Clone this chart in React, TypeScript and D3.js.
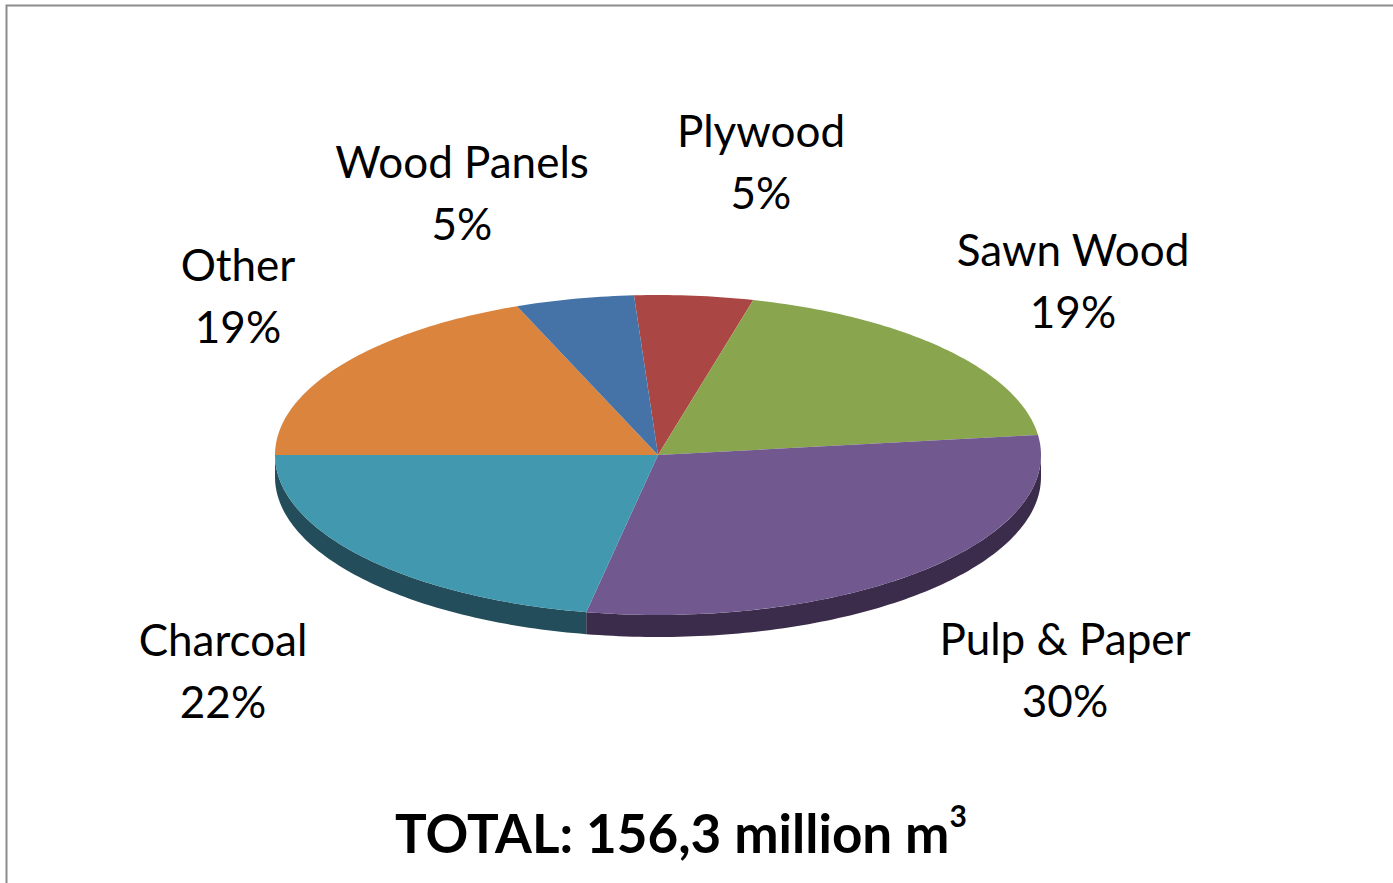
import React from "react";
import * as d3 from "d3";

const categories = ["Plywood", "Sawn Wood", "Pulp & Paper", "Charcoal", "Other", "Wood Panels"];
const values = [5, 19, 30, 22, 19, 5];
const percentLabels = ["5%", "19%", "30%", "22%", "19%", "5%"];
const topColors = ["#aa4643", "#89a54e", "#71588f", "#4198af", "#db843d", "#4572a7"];
const sideColors = ["#5e2524", "#4b5c2a", "#3b2c4b", "#234d5a", "#7a4720", "#243d5c"];
const titleText = "TOTAL: 156,3 million m";
const titleSup = "3";

const W = 1393;
const H = 883;
const cx = 658;
const cy = 455;
const rx = 383;
const ry = 160;
const depth = 22;
const FONT = "Lato, 'Open Sans', sans-serif";

// label placement (center x, first-line baseline y)
const labelPos: Record<string, [number, number]> = {
  "Plywood": [761, 147],
  "Sawn Wood": [1073, 266],
  "Pulp & Paper": [1065, 655],
  "Charcoal": [223, 656],
  "Other": [238, 281],
  "Wood Panels": [462, 178],
};

function pt(theta: number, dy = 0): [number, number] {
  return [cx + rx * Math.sin(theta), cy - ry * Math.cos(theta) + dy];
}

function topPath(a0: number, a1: number): string {
  const n = Math.max(2, Math.ceil(((a1 - a0) * 180) / Math.PI));
  const pts: [number, number][] = [[cx, cy]];
  for (let i = 0; i <= n; i++) pts.push(pt(a0 + ((a1 - a0) * i) / n));
  return "M" + pts.map((p) => p.join(",")).join("L") + "Z";
}

function sidePath(a0: number, a1: number): string | null {
  const lo = Math.max(a0, Math.PI / 2);
  const hi = Math.min(a1, (3 * Math.PI) / 2);
  if (hi <= lo) return null;
  const n = Math.max(2, Math.ceil(((hi - lo) * 180) / Math.PI));
  const upper: [number, number][] = [];
  const lower: [number, number][] = [];
  for (let i = 0; i <= n; i++) {
    const t = lo + ((hi - lo) * i) / n;
    upper.push(pt(t));
    lower.push(pt(t, depth));
  }
  const pts = upper.concat(lower.reverse());
  return "M" + pts.map((p) => p.join(",")).join("L") + "Z";
}

export default function App() {
  const start = (-3.6 * Math.PI) / 180;
  const pie = d3
    .pie<number>()
    .sort(null)
    .value((d) => d)
    .startAngle(start)
    .endAngle(start + 2 * Math.PI);
  const arcs = pie(values);

  return (
    <svg width={W} height={H} style={{ position: "absolute", left: 0, top: 0, background: "#fff" }}>
      <rect x={6.5} y={5.5} width={W + 20} height={H + 20} fill="#fff" stroke="#8c8c8c" strokeWidth={2} />
      <g>
        {arcs.map((a, i) => {
          const d = sidePath(a.startAngle, a.endAngle);
          return d ? <path key={"s" + i} d={d} fill={sideColors[i]} /> : null;
        })}
        {arcs.map((a, i) => (
          <path key={"t" + i} d={topPath(a.startAngle, a.endAngle)} fill={topColors[i]} />
        ))}
      </g>
      <g fontFamily={FONT} fontSize={44} fill="#000" textAnchor="middle">
        {categories.map((c, i) => {
          const [x, y] = labelPos[c];
          return (
            <text key={c} x={x} y={y}>
              <tspan x={x}>{c}</tspan>
              <tspan x={x} dy={62}>{percentLabels[i]}</tspan>
            </text>
          );
        })}
      </g>
      <text x={395} y={853} fontFamily={FONT} fontWeight="bold" fontSize={53} textAnchor="start" fill="#000">
        {titleText}
        <tspan fontSize={30} dy={-26}>{titleSup}</tspan>
      </text>
    </svg>
  );
}
